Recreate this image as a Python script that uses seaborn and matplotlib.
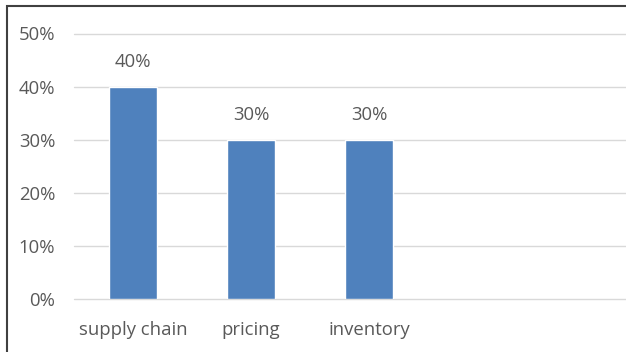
import matplotlib
matplotlib.use("Agg")
import matplotlib.pyplot as plt
import seaborn as sns
import pandas as pd
from matplotlib.patches import Rectangle

categories = ["supply chain", "pricing", "inventory"]
values = [0.40, 0.30, 0.30]
yticks = [0.0, 0.1, 0.2, 0.3, 0.4, 0.5]
ytick_labels = ["0%", "10%", "20%", "30%", "40%", "50%"]

sns.set_theme(style="white")
plt.rcParams['font.family'] = ['Open Sans', 'DejaVu Sans']

W, H = 626, 352
fig = plt.figure(figsize=(W/100, H/100), dpi=100)
ax = fig.add_axes([74/W, 53/H, 1 - 74/W, (299-33.5)/H])

df = pd.DataFrame({"cat": categories, "val": values})
sns.barplot(data=df, x="cat", y="val", color="#4f81bd", saturation=1,
            width=0.4, ax=ax, zorder=3)

text_color = "#595959"
fs = 13.3
ax.set_ylim(0, 0.5)
ax.set_xlim(-0.5, (W - 74) / 118 - 0.5)
ax.set_yticks(yticks)
ax.set_yticklabels(ytick_labels, color=text_color, fontsize=fs)
ax.tick_params(axis="y", length=0, pad=13.5)
ax.tick_params(axis="x", length=0, pad=16, labelcolor=text_color, labelsize=fs)
ax.set_xlabel("")
ax.set_ylabel("")
for v in yticks:
    ax.axhline(v, color="#d9d9d9", lw=1.0, zorder=1, clip_on=False)
for s in ax.spines.values():
    s.set_visible(False)

for i, v in enumerate(values):
    ax.annotate(f"{v*100:.0f}%", (i, v), xytext=(0, 17.5), textcoords="offset points",
                ha="center", va="center", color=text_color, fontsize=fs)

fig.patches.append(Rectangle((7/W, -0.1), 1.2, 1 - 6/H + 0.1, transform=fig.transFigure,
                             fill=False, edgecolor="#404040", lw=1.5, zorder=10))

fig.savefig("out.png", dpi=100)
